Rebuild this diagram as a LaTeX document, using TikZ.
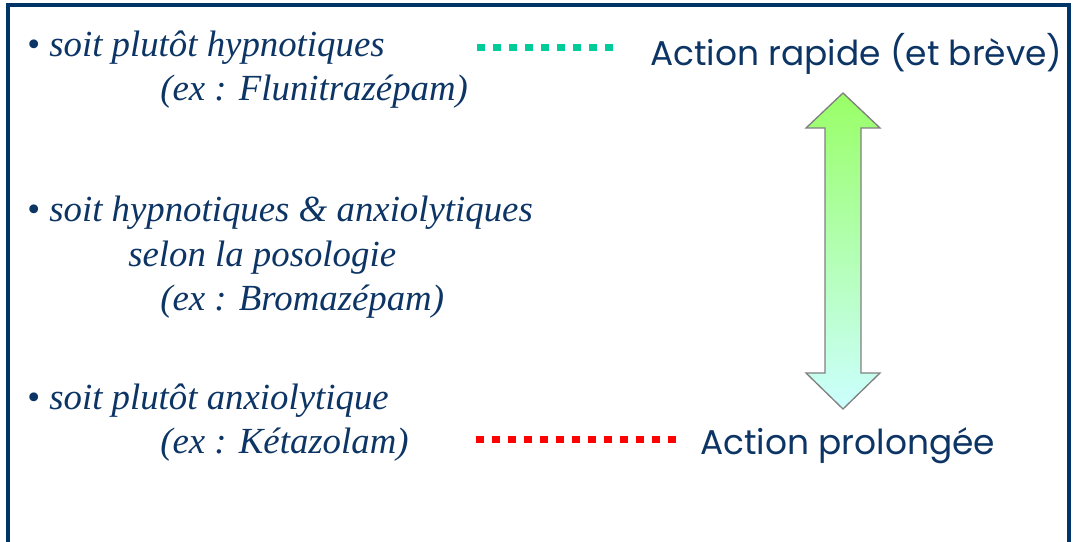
\documentclass[tikz,border=0pt]{standalone}
\usepackage{fontspec}
\setmainfont{Liberation Serif}
\newfontfamily\effectfont{Poppins}
\definecolor{navy}{RGB}{0,51,102}
\definecolor{inknavy}{RGB}{12,52,100}
\definecolor{teal}{RGB}{0,204,153}
\definecolor{fastgreen}{RGB}{153,255,102}
\definecolor{slowcyan}{RGB}{204,255,255}
\newcommand{\bul}{{\upshape\textbullet}\ }
\begin{document}
\begin{tikzpicture}[x=0.75pt,y=-0.75pt,
  item/.style={anchor=base west, inner sep=0pt, text=inknavy,
    font=\fontsize{27.6}{32}\selectfont\itshape},
  effect/.style={anchor=base west, inner sep=0pt, text=inknavy,
    font=\effectfont\fontsize{25.8}{30}\selectfont},
  dotline/.style={line width=5.25pt, dash pattern=on 6pt off 6pt},
  frame/.style={draw=navy, line width=3.4pt}]
\useasboundingbox (0,0) rectangle (1075,542);

% open frame (no bottom edge)
\draw[frame] (8,545) -- (8,5) -- (1069,5) -- (1069,545);

% left column
\node[item] (hyp)   at (27,57)  {\bul soit plutôt hypnotiques};
\node[item] (hypex) at (160,101) {(ex : Flunitrazépam)};
\node[item] (mix)   at (27,221) {\bul soit hypnotiques \& anxiolytiques};
\node[item] (mixb)  at (128,266) {selon la posologie};
\node[item] (mixex) at (160,310) {(ex : Bromazépam)};
\node[item] (anx)   at (27,409) {\bul soit plutôt anxiolytique};
\node[item] (anxex) at (160,453) {(ex : Kétazolam)};

% right column
\node[effect] (fast) at (650,65)  {Action rapide (et brève)};
\node[effect] (slow) at (700,454) {Action prolongée};

% dotted leaders
\coordinate (tealA) at (477,48);
\coordinate (tealB) at (613,48);
\coordinate (redA)  at (476,439);
\coordinate (redB)  at (677,439);
\draw[dotline, draw=teal] (tealA) -- (tealB);
\draw[dotline, draw=red]  (redA) -- (redB);

% double arrow between the two durations
\shade[top color=fastgreen, bottom color=slowcyan]
  (843,93) -- (880,128) -- (861,128) -- (861,373) -- (880,373) -- (843,409)
  -- (806,373) -- (825,373) -- (825,128) -- (806,128) -- cycle;
\draw[draw=gray, line width=1pt, line join=miter]
  (843,93) -- (880,128) -- (861,128) -- (861,373) -- (880,373) -- (843,409)
  -- (806,373) -- (825,373) -- (825,128) -- (806,128) -- cycle;
\end{tikzpicture}
\end{document}
